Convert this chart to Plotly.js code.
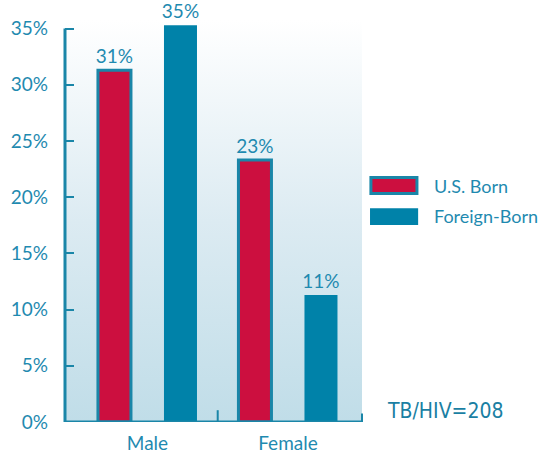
<!DOCTYPE html>
<html><head><meta charset="utf-8">
<script src="https://cdn.plot.ly/plotly-3.0.1.min.js"></script>
<style>html,body{margin:0;padding:0;background:#fff}#chart{width:551px;height:456px}</style>
</head><body><div id="chart"></div>
<script>
const categories = ['Male', 'Female'];
const seriesNames = ['U.S. Born', 'Foreign-Born'];
const usBorn = [31.3, 23.3];
const foreignBorn = [35.3, 11.3];
const usBornLabels = ['31%', '23%'];
const foreignBornLabels = ['35%', '11%'];
const yTickVals = [0, 5, 10, 15, 20, 25, 30, 35];
const yTickText = ['0%', '5%', '10%', '15%', '20%', '25%', '30%', '35%'];
const noteText = 'TB/HIV=208';

const TEAL = '#1a86a8';
const TXT = '#1f8ab0';
const RED = '#cc0f3f';
const BAR2 = '#0082a9';
const FONT = 'Lato, "Open Sans", sans-serif';

const grad = '<svg xmlns="http://www.w3.org/2000/svg" width="100" height="100" preserveAspectRatio="none">' +
  '<defs><linearGradient id="g" x1="0" y1="0" x2="0" y2="1">' +
  '<stop offset="0" stop-color="#ffffff"/><stop offset="0.5" stop-color="#dcebf2"/><stop offset="1" stop-color="#c0dde8"/>' +
  '</linearGradient></defs><rect width="100" height="100" fill="url(#g)"/></svg>';
const gradSrc = 'data:image/svg+xml;charset=utf-8,' + encodeURIComponent(grad);

const traces = [
  {
    type: 'bar', name: seriesNames[0], x: categories, y: usBorn,
    width: 0.235, offset: -0.3525,
    marker: {color: RED, line: {color: TEAL, width: 3}},
    text: usBornLabels, textposition: 'outside', cliponaxis: false, constraintext: 'none',
    textfont: {family: FONT, size: 19, color: TXT},
    hoverinfo: 'skip'
  },
  {
    type: 'bar', name: seriesNames[1], x: categories, y: foreignBorn,
    width: 0.235, offset: 0.1175,
    marker: {color: BAR2, line: {color: BAR2, width: 0}},
    text: foreignBornLabels, textposition: 'outside', cliponaxis: false, constraintext: 'none',
    textfont: {family: FONT, size: 19, color: TXT},
    hoverinfo: 'skip'
  }
];

const layout = {
  width: 551, height: 456,
  margin: {l: 65, r: 189, t: 20, b: 34},
  paper_bgcolor: '#ffffff',
  plot_bgcolor: 'rgba(0,0,0,0)',
  showlegend: false,
  barmode: 'overlay',
  font: {family: FONT, color: TXT},
  xaxis: {
    type: 'category', range: [-0.587, 1.527],
    showline: false, showgrid: false, zeroline: false, ticks: '',
    ticklabelstandoff: 8,
    tickfont: {family: FONT, size: 19, color: TXT},
    fixedrange: true
  },
  yaxis: {
    range: [0, 35.76],
    tickvals: yTickVals, ticktext: yTickText,
    ticks: 'inside', ticklen: 9, tickwidth: 2, tickcolor: TEAL,
    showline: false, showgrid: false, zeroline: false,
    ticklabelstandoff: 16,
    tickfont: {family: FONT, size: 19, color: TXT},
    fixedrange: true
  },
  images: [{
    source: gradSrc, xref: 'paper', yref: 'paper', x: 0, y: 1,
    sizex: 1, sizey: 1, sizing: 'stretch', xanchor: 'left', yanchor: 'top', layer: 'below'
  }],
  shapes: [
    {type: 'line', xref: 'paper', yref: 'y', x0: 0, x1: 0, y0: 0, y1: yTickVals[yTickVals.length - 1], line: {color: TEAL, width: 3}},
    {type: 'line', xref: 'paper', yref: 'y', x0: 0, x1: 1, y0: 0, y1: 0, line: {color: TEAL, width: 3}},
    {type: 'line', xref: 'x', yref: 'y', x0: 0.5, x1: 0.5, y0: 0, y1: 1.05, line: {color: TEAL, width: 2}},
    {type: 'line', xref: 'paper', yref: 'y', x0: 1, x1: 1, y0: 0, y1: 0.75, line: {color: TEAL, width: 2}},
    {type: 'rect', xref: 'paper', yref: 'paper', x0: 1.030, x1: 1.185, y0: 0.5685, y1: 0.608, fillcolor: RED, line: {color: TEAL, width: 3}},
    {type: 'rect', xref: 'paper', yref: 'paper', x0: 1.027, x1: 1.189, y0: 0.490, y1: 0.532, fillcolor: BAR2, line: {width: 0}}
  ],
  annotations: [
    {xref: 'paper', yref: 'paper', x: 1.236, y: 0.587, xanchor: 'left', yanchor: 'middle', showarrow: false,
     text: seriesNames[0], font: {family: FONT, size: 18, color: TXT}},
    {xref: 'paper', yref: 'paper', x: 1.236, y: 0.512, xanchor: 'left', yanchor: 'middle', showarrow: false,
     text: seriesNames[1], font: {family: FONT, size: 18, color: TXT}},
    {xref: 'paper', yref: 'paper', x: 1.077, y: 0.027, xanchor: 'left', yanchor: 'middle', showarrow: false,
     text: noteText, font: {family: '"DejaVu Sans Condensed", "Liberation Sans Narrow", sans-serif', size: 21, color: '#1a7fa3'}}
  ]
};

Plotly.newPlot('chart', traces, layout, {staticPlot: true, displayModeBar: false});
</script>
</body></html>
